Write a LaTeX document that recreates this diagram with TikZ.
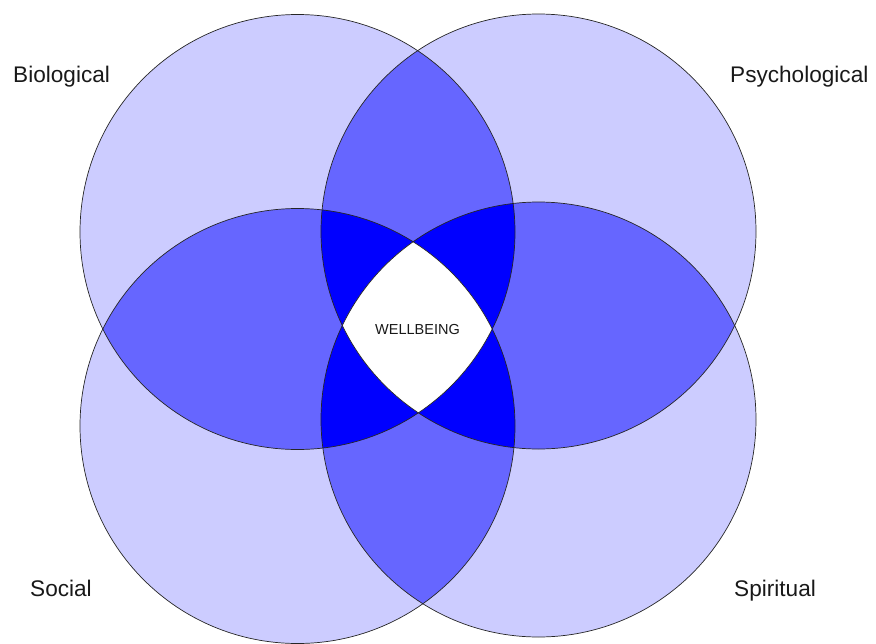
\documentclass[tikz,border=0pt]{standalone}
\usepackage{fontspec}
\setmainfont{Liberation Sans}
\definecolor{oneC}{HTML}{CCCCFF}
\definecolor{twoC}{HTML}{6666FF}
\definecolor{threeC}{HTML}{0000FF}
\tikzset{
  lab/.style={inner sep=0pt, anchor=base west, font=\fontsize{22.6}{26}\selectfont, text=black!90},
  ring/.style={draw=black!85, line width=0.7pt}
}
\begin{document}
\begin{tikzpicture}[x=1pt,y=-1pt]
\useasboundingbox (0,0) rectangle (876,643);
\def\cA{(297.5,232) circle[radius=217.5pt]}
\def\cB{(538.5,231.5) circle[radius=217.5pt]}
\def\cC{(297.5,426) circle[radius=217.5pt]}
\def\cD{(538.5,419.5) circle[radius=217.5pt]}
% single coverage
\fill[oneC] \cA; \fill[oneC] \cB; \fill[oneC] \cC; \fill[oneC] \cD;
% pairs
\begin{scope}\clip \cA; \fill[twoC] \cB; \fill[twoC] \cC; \fill[twoC] \cD; \end{scope}
\begin{scope}\clip \cB; \fill[twoC] \cC; \fill[twoC] \cD; \end{scope}
\begin{scope}\clip \cC; \fill[twoC] \cD; \end{scope}
% triples
\begin{scope}\clip \cA; \clip \cB; \fill[threeC] \cC; \fill[threeC] \cD; \end{scope}
\begin{scope}\clip \cA; \clip \cC; \fill[threeC] \cD; \end{scope}
\begin{scope}\clip \cB; \clip \cC; \fill[threeC] \cD; \end{scope}
% quadruple
\begin{scope}\clip \cA; \clip \cB; \clip \cC; \fill[white] \cD; \end{scope}
% outlines
\draw[ring] \cA; \draw[ring] \cB; \draw[ring] \cC; \draw[ring] \cD;
% labels
\node[lab] (bio) at (13,82) {Biological};
\node[lab] (psy) at (730,82) {Psychological};
\node[lab] (soc) at (30,596) {Social};
\node[lab] (spi) at (734,596) {Spiritual};
\node[lab, font=\fontsize{14.5}{17}\selectfont] (well) at (375,334) {WELLBEING};
\end{tikzpicture}
\end{document}
